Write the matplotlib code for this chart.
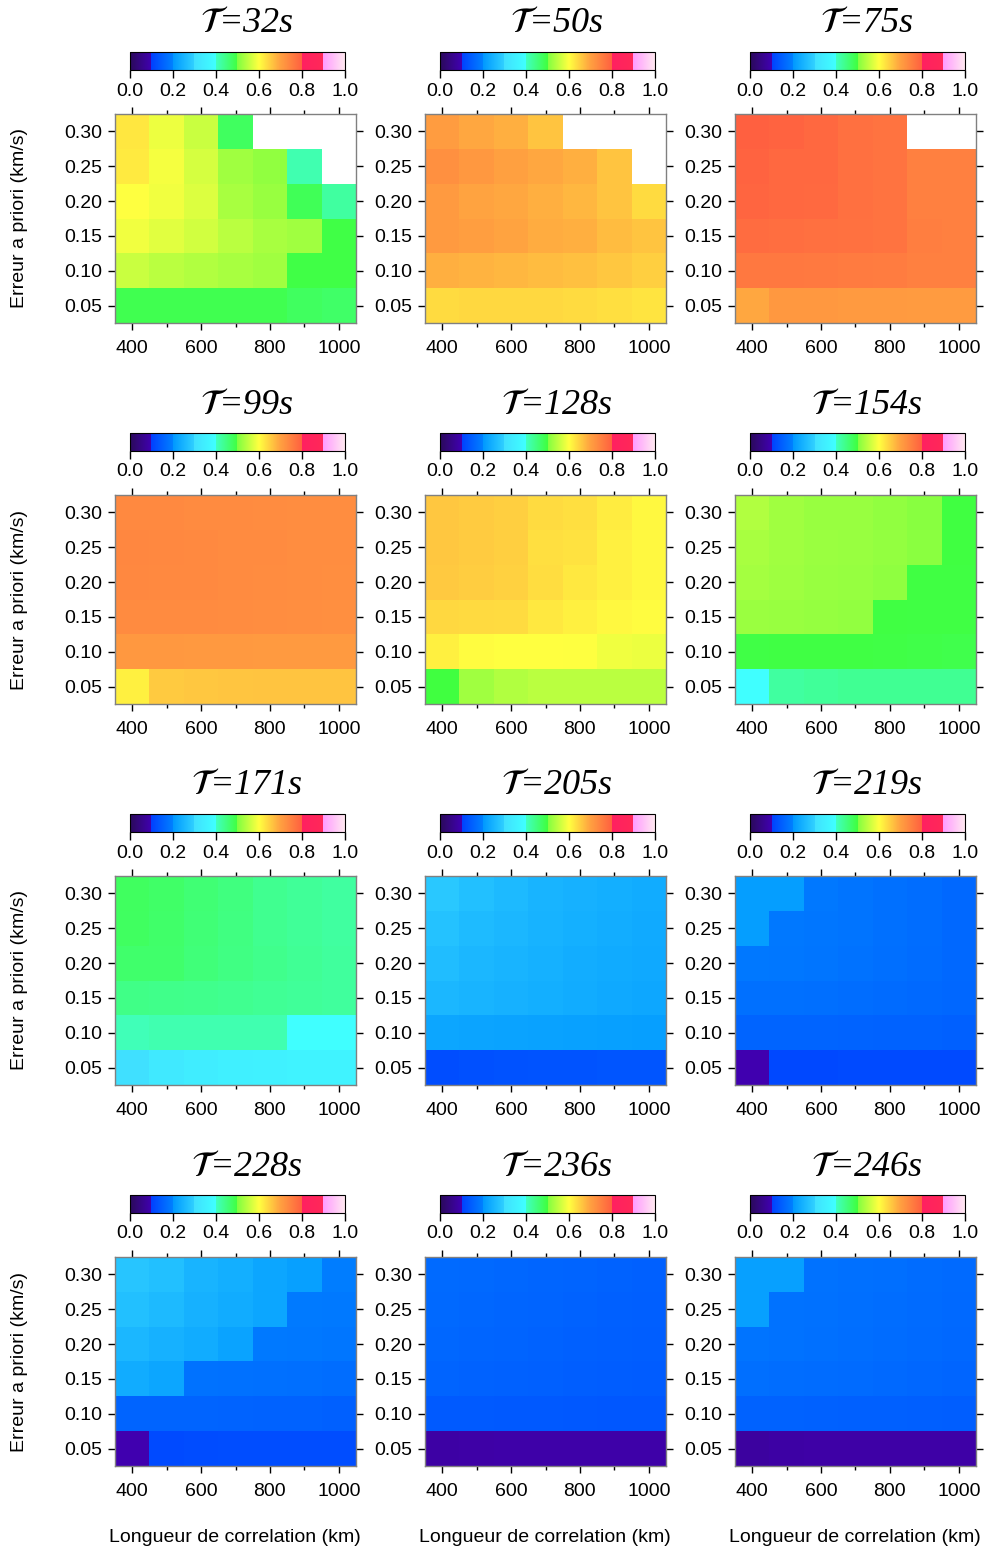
import numpy as np
import matplotlib
matplotlib.use('Agg')
import matplotlib.pyplot as plt
from matplotlib.colors import ListedColormap, to_rgb
from matplotlib.cm import ScalarMappable
from matplotlib.colors import Normalize

plt.rcParams['font.family'] = ['Liberation Sans', 'DejaVu Sans']
plt.rcParams['mathtext.fontset'] = 'stix'

# correlation length (km) and a priori error (km/s), rows listed top (0.30) to bottom (0.05)
lengths = [400, 500, 600, 700, 800, 900, 1000]
errors = [0.30, 0.25, 0.20, 0.15, 0.10, 0.05]
periods = [32, 50, 75, 99, 128, 154, 171, 205, 219, 228, 236, 246]
nan = np.nan

t32 = [[0.625, 0.585, 0.557, 0.475, nan, nan, nan],
       [0.622, 0.591, 0.566, 0.525, 0.513, 0.4125, nan],
       [0.598, 0.588, 0.572, 0.531, 0.519, 0.481, 0.425],
       [0.588, 0.576, 0.563, 0.545, 0.531, 0.525, 0.494],
       [0.557, 0.545, 0.538, 0.531, 0.525, 0.494, 0.494],
       [0.4875, 0.4875, 0.4875, 0.4875, 0.4875, 0.475, 0.469]]
t50 = [[0.706, 0.692, 0.683, 0.662, nan, nan, nan],
       [0.725, 0.7125, 0.70, 0.692, 0.683, 0.662, nan],
       [0.709, 0.696, 0.692, 0.683, 0.675, 0.662, 0.637],
       [0.709, 0.703, 0.696, 0.687, 0.683, 0.670, 0.662],
       [0.683, 0.679, 0.675, 0.670, 0.666, 0.658, 0.65],
       [0.637, 0.641, 0.641, 0.641, 0.637, 0.633, 0.628]]
t75 = [[0.799, 0.794, 0.7875, 0.775, 0.769, nan, nan],
       [0.794, 0.7875, 0.7875, 0.775, 0.769, 0.75, 0.75],
       [0.792, 0.7875, 0.785, 0.775, 0.769, 0.75, 0.75],
       [0.781, 0.778, 0.775, 0.772, 0.769, 0.752, 0.75],
       [0.7625, 0.7625, 0.76, 0.758, 0.755, 0.75, 0.75],
       [0.692, 0.7125, 0.7125, 0.71, 0.71, 0.708, 0.708]]
t99 = [[0.735, 0.735, 0.733, 0.733, 0.731, 0.73, 0.73],
       [0.738, 0.737, 0.735, 0.733, 0.732, 0.73, 0.729],
       [0.737, 0.736, 0.735, 0.733, 0.731, 0.73, 0.728],
       [0.733, 0.733, 0.732, 0.731, 0.73, 0.728, 0.726],
       [0.712, 0.712, 0.711, 0.711, 0.71, 0.71, 0.709],
       [0.616, 0.655, 0.658, 0.66, 0.662, 0.662, 0.662]]
t128 = [[0.658, 0.654, 0.65, 0.637, 0.633, 0.62, 0.607],
        [0.658, 0.654, 0.65, 0.633, 0.63, 0.616, 0.607],
        [0.656, 0.652, 0.648, 0.635, 0.624, 0.616, 0.607],
        [0.641, 0.639, 0.637, 0.624, 0.616, 0.607, 0.603],
        [0.616, 0.603, 0.6, 0.6, 0.598, 0.587, 0.584],
        [0.499, 0.525, 0.538, 0.545, 0.545, 0.545, 0.545]]
t154 = [[0.538, 0.525, 0.519, 0.519, 0.513, 0.506, 0.498],
        [0.531, 0.525, 0.52, 0.519, 0.515, 0.508, 0.498],
        [0.528, 0.523, 0.519, 0.517, 0.512, 0.497, 0.497],
        [0.52, 0.519, 0.516, 0.514, 0.497, 0.496, 0.496],
        [0.494, 0.496, 0.496, 0.496, 0.494, 0.492, 0.49],
        [0.398, 0.425, 0.43, 0.435, 0.435, 0.435, 0.435]]
t171 = [[0.475, 0.469, 0.459, 0.45, 0.4375, 0.431, 0.425],
        [0.474, 0.467, 0.457, 0.449, 0.437, 0.431, 0.425],
        [0.466, 0.466, 0.455, 0.447, 0.44, 0.433, 0.427],
        [0.444, 0.442, 0.44, 0.437, 0.433, 0.43, 0.427],
        [0.406, 0.4125, 0.4125, 0.4125, 0.4125, 0.398, 0.398],
        [0.30, 0.33, 0.34, 0.35, 0.355, 0.36, 0.36]]
t205 = [[0.285, 0.27, 0.26, 0.25, 0.245, 0.24, 0.235],
        [0.275, 0.262, 0.255, 0.248, 0.242, 0.238, 0.232],
        [0.265, 0.255, 0.25, 0.244, 0.238, 0.234, 0.23],
        [0.255, 0.25, 0.245, 0.24, 0.235, 0.23, 0.226],
        [0.225, 0.222, 0.22, 0.218, 0.216, 0.215, 0.213],
        [0.12, 0.125, 0.128, 0.13, 0.13, 0.132, 0.132]]
t219 = [[0.21, 0.21, 0.1875, 0.181, 0.175, 0.169, 0.1625],
        [0.21, 0.1875, 0.184, 0.18, 0.175, 0.169, 0.1625],
        [0.1875, 0.185, 0.182, 0.178, 0.173, 0.168, 0.162],
        [0.175, 0.174, 0.172, 0.17, 0.167, 0.164, 0.16],
        [0.156, 0.156, 0.155, 0.154, 0.153, 0.152, 0.15],
        [0.098, 0.1125, 0.113, 0.115, 0.115, 0.116, 0.116]]
t228 = [[0.28, 0.27, 0.25, 0.24, 0.225, 0.215, 0.195],
        [0.27, 0.26, 0.245, 0.235, 0.225, 0.19, 0.188],
        [0.255, 0.245, 0.235, 0.22, 0.188, 0.186, 0.184],
        [0.235, 0.225, 0.178, 0.176, 0.174, 0.172, 0.17],
        [0.155, 0.155, 0.155, 0.154, 0.153, 0.152, 0.15],
        [0.098, 0.115, 0.118, 0.12, 0.12, 0.12, 0.12]]
t236 = [[0.165, 0.163, 0.16, 0.158, 0.155, 0.152, 0.15],
        [0.163, 0.161, 0.158, 0.156, 0.153, 0.15, 0.148],
        [0.16, 0.158, 0.155, 0.153, 0.15, 0.148, 0.146],
        [0.155, 0.153, 0.151, 0.149, 0.147, 0.145, 0.143],
        [0.14, 0.14, 0.139, 0.138, 0.137, 0.136, 0.135],
        [0.085, 0.088, 0.09, 0.09, 0.09, 0.09, 0.09]]
t246 = [[0.215, 0.215, 0.178, 0.175, 0.172, 0.168, 0.165],
        [0.215, 0.178, 0.176, 0.173, 0.17, 0.166, 0.163],
        [0.18, 0.177, 0.174, 0.171, 0.168, 0.165, 0.162],
        [0.172, 0.17, 0.168, 0.166, 0.164, 0.161, 0.158],
        [0.152, 0.152, 0.151, 0.15, 0.149, 0.148, 0.147],
        [0.08, 0.085, 0.088, 0.088, 0.088, 0.088, 0.088]]
grids = [t32, t50, t75, t99, t128, t154, t171, t205, t219, t228, t236, t246]

# GMT-like sliced rainbow palette
slices = [('#2a0a5a', '#4000b0'), ('#0040ff', '#0080ff'), ('#0098ff', '#30d0ff'),
          ('#40e0ff', '#40ffff'), ('#40ffc0', '#40ff40'), ('#80ff40', '#ffff40'),
          ('#ffff40', '#ffa040'), ('#ffa040', '#ff6040'), ('#ff2060', '#ff2858'),
          ('#ff9cff', '#ffe8f0')]
cols = []
for c0, c1 in slices:
    a, b = np.array(to_rgb(c0)), np.array(to_rgb(c1))
    for f in np.linspace(0, 1, 100):
        cols.append(a + (b - a) * f)
cmap = ListedColormap(cols)
cmap.set_bad('white')
norm = Normalize(0, 1)

W, H = 987, 1551
fig = plt.figure(figsize=(W / 100, H / 100), dpi=100)

def rect(l, t, w, h):
    return [l / W, 1 - (t + h) / H, w / W, h / H]

col_left = [115, 425, 735]
row_top = [114, 495, 876, 1257]

for i, (T, Z) in enumerate(zip(periods, grids)):
    r, c = divmod(i, 3)
    l, t = col_left[c], row_top[r]

    ax = fig.add_axes(rect(l, t, 241, 209))
    Zm = np.ma.masked_invalid(np.array(Z))
    ax.pcolormesh(lengths, errors, Zm, cmap=cmap, norm=norm, shading='nearest')
    ax.set_xlim(350, 1050)
    ax.set_ylim(0.025, 0.325)
    ax.set_xticks([400, 600, 800, 1000])
    ax.set_xticks([500, 700, 900], minor=True)
    ax.set_yticks(errors)
    ax.set_yticklabels([f'{e:.2f}' for e in errors])
    ax.tick_params(which='both', direction='out', top=True, right=True,
                   labelsize=14, width=1, pad=4)
    ax.tick_params(axis='x', pad=7)
    ax.tick_params(which='major', length=5)
    ax.tick_params(which='minor', length=3)
    for s in ax.spines.values():
        s.set_color('#808080')
        s.set_linewidth(1)

    cax = fig.add_axes(rect(l + 15, t - 62, 215, 18))
    cb = fig.colorbar(ScalarMappable(norm=norm, cmap=cmap), cax=cax,
                      orientation='horizontal')
    cb.set_ticks([0, 0.2, 0.4, 0.6, 0.8, 1.0])
    cb.set_ticklabels(['0.0', '0.2', '0.4', '0.6', '0.8', '1.0'])
    cax.tick_params(direction='out', length=6, width=1, labelsize=14, pad=3)
    cb.outline.set_linewidth(0.8)

    fig.text((l + 15 + 107.5 + 9) / W, 1 - (t - 90) / H,
             r'$\mathcal{T}$=%ds' % T, ha='center', va='center',
             fontsize=26, family='Liberation Serif', style='italic')

    if c == 0:
        fig.text(20 / W, 1 - (t + 104.5) / H, 'Erreur a priori (km/s)',
                 rotation=90, ha='center', va='center', fontsize=14)
    if r == 3:
        fig.text((l + 120) / W, 1 - 1538 / H, 'Longueur de correlation (km)',
                 ha='center', va='center', fontsize=14)

fig.savefig('out.png', dpi=100)
